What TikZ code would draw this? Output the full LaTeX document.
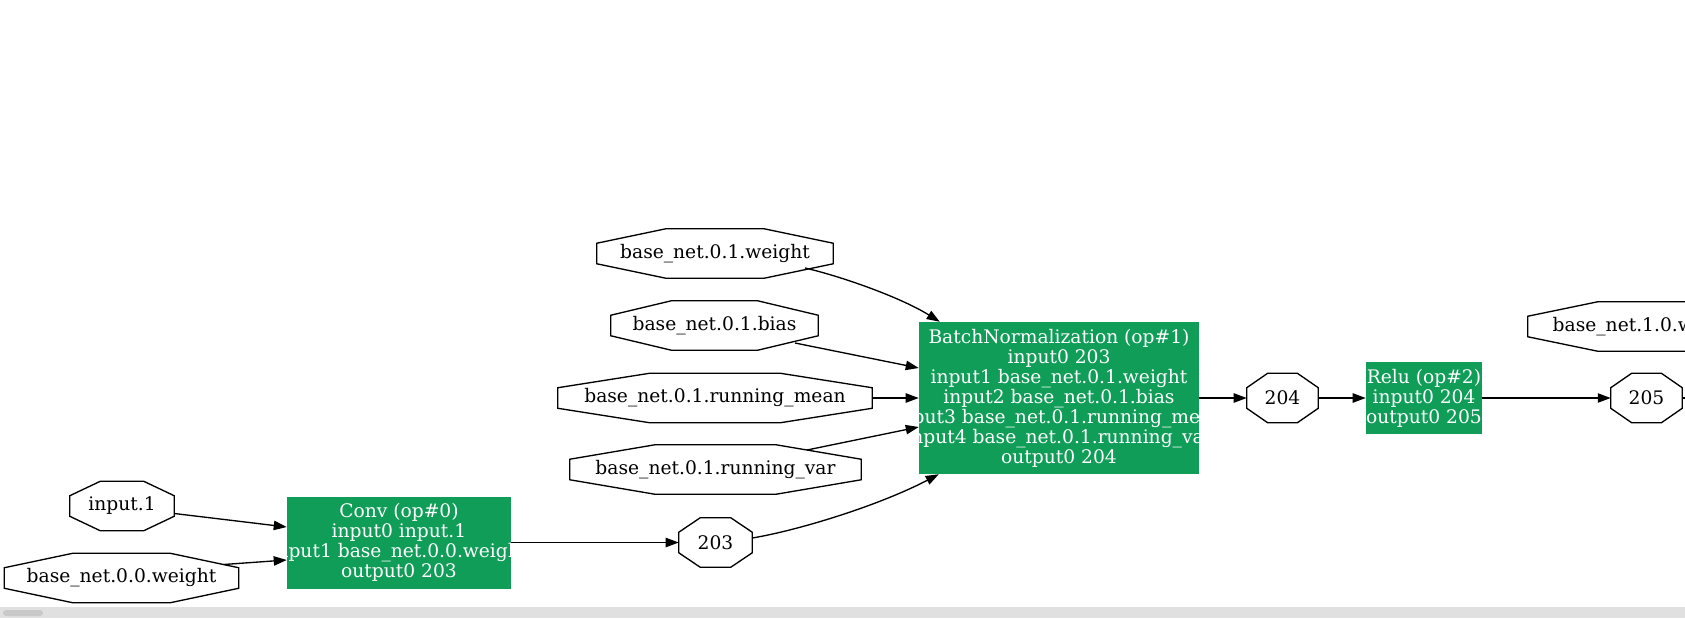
\documentclass[tikz,border=0pt]{standalone}
\usepackage{fontspec}
\setmainfont{DejaVu Serif}
\usetikzlibrary{calc,arrows.meta}
\definecolor{opgreen}{HTML}{0F9D58}
\definecolor{sbband}{HTML}{E0E0E0}
\definecolor{sbthumb}{HTML}{C9C9C9}
\newcommand\octo[1]{\draw[octline]
  ($(#1.north west)!0.2929!(#1.north east)$) -- ($(#1.north west)!0.7071!(#1.north east)$) --
  ($(#1.north east)!0.2929!(#1.south east)$) -- ($(#1.north east)!0.7071!(#1.south east)$) --
  ($(#1.south east)!0.2929!(#1.south west)$) -- ($(#1.south east)!0.7071!(#1.south west)$) --
  ($(#1.south west)!0.2929!(#1.north west)$) -- ($(#1.south west)!0.7071!(#1.north west)$) -- cycle;}
\tikzset{
  lbl/.style={font=\fontsize{14pt}{15pt}\selectfont},
  octnode/.style 2 args={rectangle, inner sep=0pt, minimum width=#1*0.75pt, minimum height=#2*0.75pt, lbl},
  opbox/.style 2 args={rectangle, inner sep=0pt, fill=opgreen, minimum width=#1*0.75pt, minimum height=#2*0.75pt},
  optext/.style={lbl, text=white, align=center, inner sep=0pt, fill=none, draw=none},
  octline/.style={draw=black, line width=1pt},
  conn/.style={draw=black, line width=1pt, -{Triangle[length=9.75pt,width=7pt]}},
}
\begin{document}
\begin{tikzpicture}[x=0.75pt,y=-0.75pt]
\clip (0,0) rectangle (1685,618);
\fill[white] (0,0) rectangle (1685,618);

% parameter / value nodes
\node[octnode={104}{49}] (in1) at (122,506) {input.1};
\node[octnode={234}{49}] (w00) at (121.5,578) {base\_net.0.0.weight};
\node[octnode={73}{49}] (n203) at (715.5,542.5) {203};
\node[octnode={236}{49}] (w01) at (715,253.5) {base\_net.0.1.weight};
\node[octnode={207}{49}] (b01) at (714.5,325.5) {base\_net.0.1.bias};
\node[octnode={314}{49}] (m01) at (715,398) {base\_net.0.1.running\_mean};
\node[octnode={291}{49}] (v01) at (715.5,469.5) {base\_net.0.1.running\_var};
\node[octnode={71}{49}] (n204) at (1282.5,398) {204};
\node[octnode={71}{49}] (n205) at (1646.5,398) {205};
\node[octnode={239}{49}] (w10) at (1647.5,326.5) {base\_net.1.0.weight};
\octo{in1}\octo{w00}\octo{n203}\octo{w01}\octo{b01}\octo{m01}\octo{v01}\octo{n204}\octo{n205}\octo{w10}

% op nodes
\node[opbox={224}{92}, path picture={\node[optext] at (path picture bounding box.center)
  {Conv (op\#0)\\input0 input.1\\input1 base\_net.0.0.weight\\output0 203};}] (conv) at (399,542.5) {};
\node[opbox={280}{152}, path picture={\node[optext] at (path picture bounding box.center)
  {BatchNormalization (op\#1)\\input0 203\\input1 base\_net.0.1.weight\\input2 base\_net.0.1.bias\\input3 base\_net.0.1.running\_mean\\input4 base\_net.0.1.running\_var\\output0 204};}] (bn) at (1059,398) {};
\node[opbox={116}{72}, path picture={\node[optext] at (path picture bounding box.center)
  {Relu (op\#2)\\input0 204\\output0 205};}] (relu) at (1424,398) {};

% connectors
\draw[conn] ($(in1.east)+(0,7.5)$) -- ($(conv.west)+(0,-15.5)$);
\draw[conn] ($(w00.center)+(102,-13.5)$) -- ($(conv.west)+(0,17.5)$);
\draw[conn] (conv.east) -- (conv.east -| n203.west);
\draw[conn] ($(n203.east)+(0,-4.5)$) .. controls (800,530) and (880,505) .. ($(bn.south west)+(20,0)$);
\draw[conn] ($(w01.center)+(90,14.5)$) .. controls (840,276) and (900,297) .. ($(bn.north west)+(21,0)$);
\draw[conn] ($(b01.center)+(80.5,17.5)$) -- ($(bn.west)+(0,-30)$);
\draw[conn] (m01.east) -- (m01.east -| bn.west);
\draw[conn] ($(v01.center)+(91.5,-19.5)$) -- ($(bn.west)+(0,29)$);
\draw[conn] (bn.east) -- (bn.east -| n204.west);
\draw[conn] (n204.east) -- (n204.east -| relu.west);
\draw[conn] (relu.east) -- (relu.east -| n205.west);
\coordinate (off) at (1720,398);
\draw[octline] (n205.east) -- (off);

% scrollbar
\fill[sbband] (0,607) rectangle (1685,618);
\fill[sbthumb, rounded corners=2.25pt] (3,610) rectangle (43,616);
\end{tikzpicture}
\end{document}
